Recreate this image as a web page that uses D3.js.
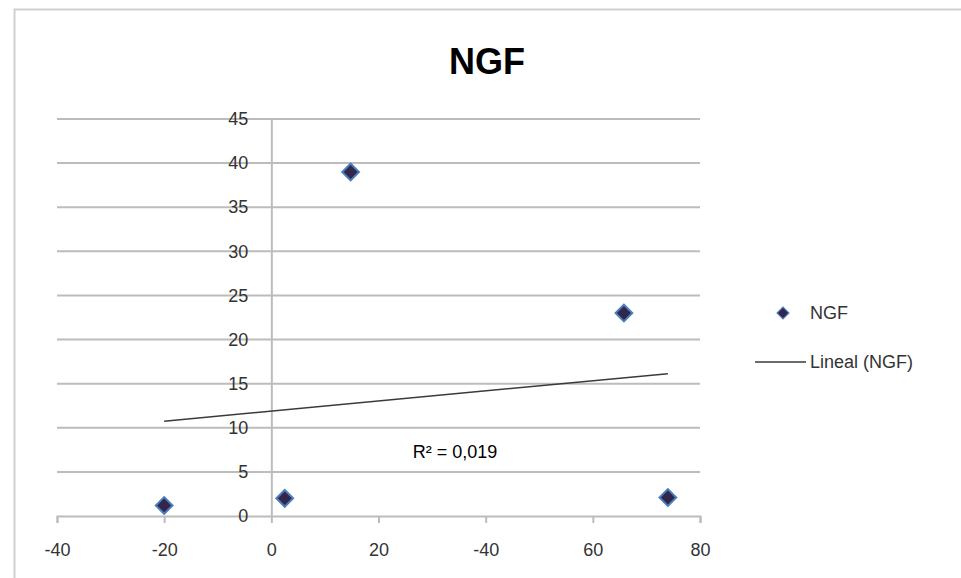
<!DOCTYPE html>
<html><head><meta charset="utf-8">
<script src="https://cdn.jsdelivr.net/npm/d3@7"></script>
<style>body{margin:0;background:#fff}svg{display:block}</style>
</head><body>
<svg id="c" width="961" height="578"></svg>
<script>
const xValues = [-20, 2.5, 14.8, 65.8, 74];
const yValues = [1.2, 2.0, 39, 23, 2.1];
const xTicks = [-40, -20, 0, 20, 40, 60, 80];
const xTickLabels = ["-40", "-20", "0", "20", "-40", "60", "80"];
const yTicks = [0, 5, 10, 15, 20, 25, 30, 35, 40, 45];
const seriesName = "NGF";
const trendName = "Lineal (NGF)";
const r2Label = "R\u00B2 = 0,019";

const svg = d3.select("#c");
const x = d3.scaleLinear().domain([-40, 80]).range([57, 700]);
const y = d3.scaleLinear().domain([0, 45]).range([516, 119]);
const font = "'Liberation Sans', Arial, sans-serif";

// chart border
svg.append("path").attr("d", "M14.5,578 V9.5 H961").attr("fill","none").attr("stroke","#d0d0d0").attr("stroke-width",2);

svg.append("text").attr("x", 487).attr("y", 74).attr("text-anchor","middle")
  .attr("font-family", font).attr("font-weight","bold").attr("font-size", 36).attr("fill","#000").text("NGF");

// gridlines
svg.append("g").selectAll("line").data(yTicks.filter(d=>d>0)).join("line")
  .attr("x1", x(-40)).attr("x2", x(80)).attr("y1", d=>y(d)).attr("y2", d=>y(d))
  .attr("stroke","#bcbcbc").attr("stroke-width",2);

// x axis at y=0
const xAxis = d3.axisBottom(x).tickValues(xTicks).tickSize(7).tickFormat((d,i)=>xTickLabels[i]);
const gx = svg.append("g").attr("transform", `translate(0,${y(0)})`).call(xAxis);
gx.select(".domain").attr("stroke","#bcbcbc").attr("stroke-width",2);
gx.selectAll(".tick line").attr("stroke","#bcbcbc").attr("stroke-width",2);
gx.selectAll(".tick text").attr("font-family", font).attr("font-size",18).attr("fill","#333").attr("dy","1.05em").attr("y",21);

// y axis at x=0
const yAxis = d3.axisLeft(y).tickValues(yTicks).tickSize(0).tickPadding(23);
const gy = svg.append("g").attr("transform", `translate(${x(0)},0)`).call(yAxis);
gy.select(".domain").attr("stroke","#bcbcbc").attr("stroke-width",2);
gy.selectAll(".tick text").attr("font-family", font).attr("font-size",18).attr("fill","#333");

// trendline (least squares)
const n = xValues.length;
const mx = d3.mean(xValues), my = d3.mean(yValues);
let sxy = 0, sxx = 0;
for (let i = 0; i < n; i++) { sxy += (xValues[i]-mx)*(yValues[i]-my); sxx += (xValues[i]-mx)**2; }
const slope = sxy/sxx, icpt = my - slope*mx;
const x0 = d3.min(xValues), x1 = d3.max(xValues);
svg.append("line").attr("x1", x(x0)).attr("y1", y(icpt+slope*x0)).attr("x2", x(x1)).attr("y2", y(icpt+slope*x1))
  .attr("stroke","#3a3a3a").attr("stroke-width",1.5);

svg.append("text").attr("x", 455).attr("y", 458).attr("text-anchor","middle")
  .attr("font-family", font).attr("font-size",18).attr("fill","#000").text(r2Label);

// markers
const diamond = d3.symbol().type(d3.symbolSquare).size(140);
svg.append("g").selectAll("path").data(xValues).join("path")
  .attr("d", diamond)
  .attr("transform", (d,i)=>`translate(${x(d)},${y(yValues[i])}) rotate(45)`)
  .attr("fill","#33264d").attr("stroke","#4a7ebb").attr("stroke-width",2);

// legend
svg.append("path").attr("d", d3.symbol().type(d3.symbolSquare).size(70))
  .attr("transform","translate(783,313) rotate(45)").attr("fill","#33264d").attr("stroke","#4a7ebb").attr("stroke-width",1.2);
svg.append("text").attr("x", 810).attr("y", 319).attr("font-family", font).attr("font-size",18).attr("fill","#333").text(seriesName);
svg.append("line").attr("x1",755).attr("x2",806).attr("y1",362).attr("y2",362).attr("stroke","#3a3a3a").attr("stroke-width",1.5);
svg.append("text").attr("x", 810).attr("y", 368).attr("font-family", font).attr("font-size",18).attr("fill","#333").text(trendName);
</script>
</body></html>
